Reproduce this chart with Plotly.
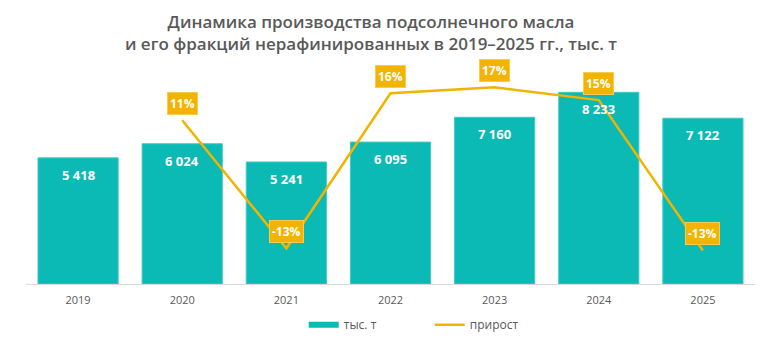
import plotly.graph_objects as go

years = ["2019", "2020", "2021", "2022", "2023", "2024", "2025"]
volume = [5418, 6024, 5241, 6095, 7160, 8233, 7122]
growth_years = ["2020", "2021", "2022", "2023", "2024", "2025"]
growth = [11.2, -13.0, 16.3, 17.4, 15.0, -13.4]

TEAL = "#0BBAB4"
GOLD = "#F2B400"
GRAY = "#595959"
FONT = "Open Sans"

fig = go.Figure()
fig.add_trace(go.Bar(
    x=years, y=volume, name="тыс. т", showlegend=False,
    marker=dict(color=TEAL, line=dict(color="#3FCAC5", width=1)),
    hoverinfo="skip",
))
# legend-only swatch for the bars (flat wide bar as in the reference)
fig.add_trace(go.Scatter(
    x=[None], y=[None], name="тыс. т", mode="lines",
    line=dict(color=TEAL, width=6), hoverinfo="skip",
))
fig.add_trace(go.Scatter(
    x=growth_years, y=growth, name="прирост", yaxis="y2",
    mode="lines", line=dict(color=GOLD, width=2.5),
    hoverinfo="skip",
))

ann = []
for x, v in zip(years, volume):
    ann.append(dict(
        x=years.index(x), y=v, xref="x", yref="y", yanchor="top", yshift=-6,
        text=f"{v:,}".replace(",", " "), showarrow=False,
        font=dict(family=FONT, size=13, color="white", weight="bold"),
    ))
for x, g in zip(growth_years, growth):
    ann.append(dict(
        x=years.index(x), y=g, xref="x", yref="y2", yanchor="middle", yshift=17,
        text=f"{round(g)}%", showarrow=False, bgcolor=GOLD,
        borderpad=2, borderwidth=1, bordercolor="#F7CC55",
        font=dict(family=FONT, size=12, color="white", weight="bold"),
    ))

fig.update_layout(
    width=781, height=353,
    margin=dict(l=26, r=26, t=70, b=69),
    paper_bgcolor="white", plot_bgcolor="white",
    font=dict(family=FONT, color=GRAY),
    title=dict(
        text="Динамика производства подсолнечного масла<br>и его фракций нерафинированных в 2019–2025 гг., тыс. т",
        x=0.475, xanchor="center", y=0.92, yanchor="middle",
        font=dict(family=FONT, size=17, color=GRAY, weight=600),
    ),
    bargap=0.23,
    xaxis=dict(
        type="category",
        showgrid=False, showline=True, linecolor="#D9D9D9", linewidth=1,
        ticks="", ticklabelstandoff=6,
        tickfont=dict(family=FONT, size=11, color=GRAY),
    ),
    yaxis=dict(range=[0, 9192], visible=False, showgrid=False),
    yaxis2=dict(range=[-19.74, 20.68], overlaying="y", visible=False, showgrid=False),
    legend=dict(
        orientation="h", x=0.381, xanchor="left", y=-0.19, yanchor="middle",
        font=dict(family=FONT, size=12, color=GRAY), entrywidth=81,
    ),
    annotations=ann,
)

fig.write_html("out.html")
